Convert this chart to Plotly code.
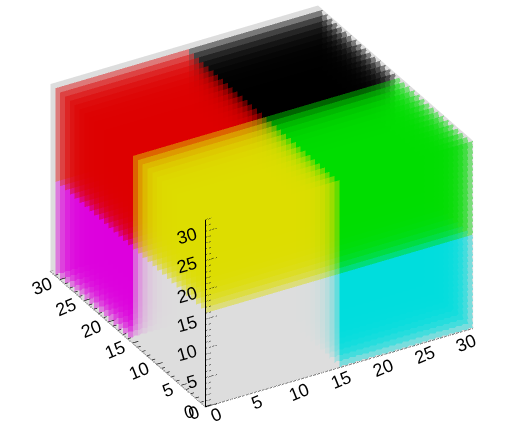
import numpy as np
import plotly.graph_objects as go

# octant colours, indexed by (x high, y high, z high)
octant_keys = [(0,0,0),(1,0,0),(0,1,0),(1,1,0),(0,0,1),(1,0,1),(0,1,1),(1,1,1)]
octant_names = ["grey","cyan","magenta","blue","yellow","green","red","black"]
octant_rgb = [(221,221,221),(0,221,221),(221,0,221),(0,0,221),(221,221,0),(0,221,0),(221,0,0),(0,0,0)]
grid_size = 32
split = 16
slice_alpha = 0.45
wall_rgb = "rgb(221,221,221)"
tick_vals = [0,5,10,15,20,25,30]

ASPECT = dict(x=1.433, y=1.433, z=1.006)
EYE_DIR = np.array([-0.4326,-0.746,0.506])
EYE_LEN = 2.0
CENTER = np.array([-0.0217,-0.0207,-0.049])

n = grid_size
nv = n+1
def vid(a,b,c):
    return a*nv*nv + b*nv + c
gx,gy,gz = np.meshgrid(np.arange(nv),np.arange(nv),np.arange(nv),indexing="ij")
vx,vy,vz = gx.ravel(),gy.ravel(),gz.ravel()

col_by_key = {k:c for k,c in zip(octant_keys,octant_rgb)}
I,J,K,FC=[],[],[],[]
for b in range(n-1,-1,-1):      # far slices first
    for a in range(n):
        for c in range(n):
            if min(a/0.58,(n-1-c)/0.966,b) > 11:
                continue
            rgb = col_by_key[(int(a>=split),int(b>=split),int(c>=split))]
            col = "rgba(%d,%d,%d,%g)"%(*rgb,slice_alpha)
            v=[vid(a,b,c),vid(a+1,b,c),vid(a+1,b,c+1),vid(a,b,c+1)]
            I+= [v[0],v[0]]; J+=[v[1],v[2]]; K+=[v[2],v[3]]; FC+=[col,col]

light = dict(ambient=1,diffuse=0,specular=0,roughness=1,fresnel=0)
fig = go.Figure()
wx=[0,n,n,0, n,n,n,n, 0,n,n,0]
wy=[0,0,n,n, 0,n,n,0, n,n,n,n]
wz=[0,0,0,0, 0,0,n,n, 0,0,n,n]
fig.add_trace(go.Mesh3d(x=wx,y=wy,z=wz,i=[0,0,4,4,8,8],j=[1,2,5,6,9,10],k=[2,3,6,7,10,11],
                        color=wall_rgb,flatshading=True,lighting=light,hoverinfo="skip",showscale=False))
fig.add_trace(go.Mesh3d(x=vx,y=vy,z=vz,i=I,j=J,k=K,facecolor=FC,flatshading=True,lighting=light,hoverinfo="skip",showscale=False))

off=-0.05
def seg(pts_list,dash="solid",w=2):
    xs,ys,zs=[],[],[]
    for p,q in pts_list:
        xs+=[p[0],q[0],None];ys+=[p[1],q[1],None];zs+=[p[2],q[2],None]
    fig.add_trace(go.Scatter3d(x=xs,y=ys,z=zs,mode="lines",line=dict(color="black",width=w,dash=dash),hoverinfo="skip",showlegend=False))
seg([((0,off,0),(n,off,0))],"dot")
seg([((off,0,0),(off,n,0))],"dot")
seg([((off,off,0),(off,off,n))])
zt=[]
for t in range(0,33):
    L=1.35 if t%5==0 else 0.65
    zt.append(((off,off,t),(L,off,t)))
seg(zt,"dot")
yt=[]
for t in range(0,33):
    L=0.7 if t%5==0 else 0.35
    yt.append(((0,t,0.02),(L,t,0.02)))
seg(yt)

ann=[]
F=dict(family="Liberation Sans",size=18,color="black")
for t in tick_vals:
    two=t>=10
    ann.append(dict(x=t,y=0,z=0,text=str(t),showarrow=False,font=F,textangle=-22,xshift=10,yshift=-10 if two else -8))
    ann.append(dict(x=0,y=t,z=0,text=str(t),showarrow=False,font=F,textangle=-22,xshift=-18 if two else (-13 if t else -12),yshift=-6.5 if two else (-5 if t else -6.5)))
    ann.append(dict(x=0,y=0,z=t,text=str(t),showarrow=False,font=F,textangle=-16,xshift=-19 if two else (-14 if t else -17),yshift=-5))

hid=dict(visible=False,range=[-0.2,32.2],autorange=False)
eye=CENTER+EYE_DIR*EYE_LEN
fig.update_layout(width=520,height=437,margin=dict(l=0,r=0,t=0,b=0),paper_bgcolor="white",showlegend=False,
    scene=dict(xaxis=hid,yaxis=hid,zaxis=hid,bgcolor="white",aspectmode="manual",aspectratio=ASPECT,
      domain=dict(x=[0,1],y=[0,1]),annotations=ann,
      camera=dict(projection=dict(type="orthographic"),up=dict(x=0,y=0,z=1),
                  center=dict(x=float(CENTER[0]),y=float(CENTER[1]),z=float(CENTER[2])),
                  eye=dict(x=float(eye[0]),y=float(eye[1]),z=float(eye[2])))))
fig.write_html("out.html",config=dict(displayModeBar=False),post_script="document.body.style.margin='0';")
